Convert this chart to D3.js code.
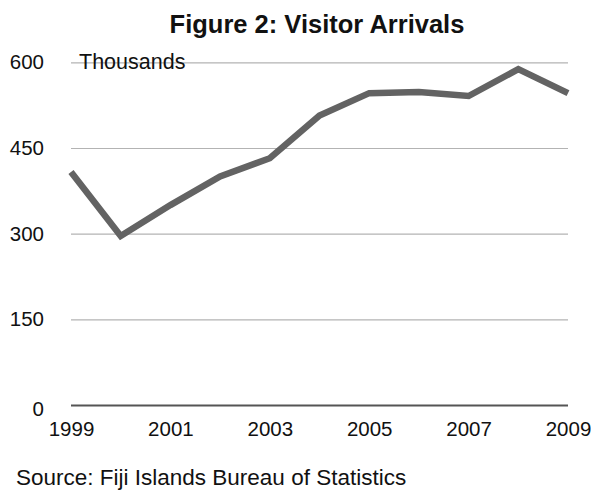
<!DOCTYPE html>
<html><head><meta charset="utf-8">
<script src="https://cdn.jsdelivr.net/npm/d3@7"></script>
<style>body{margin:0;background:#fff}svg{display:block;font-family:"Liberation Sans",Arial,sans-serif}</style>
</head><body><svg id="c" width="591" height="490"></svg>
<script>
const years = [1999,2000,2001,2002,2003,2004,2005,2006,2007,2008,2009];
const arrivals = [408,296,350,400,432,507,546,548,541,588,546];
const yTicks = [0,150,300,450,600];
const xTicks = [1999,2001,2003,2005,2007,2009];
const title = "Figure 2: Visitor Arrivals";
const unitLabel = "Thousands";
const source = "Source: Fiji Islands Bureau of Statistics";

const svg = d3.select("#c");
const x = d3.scaleLinear().domain([1999,2009]).range([71,568]);
const y = d3.scaleLinear().domain([0,600]).range([405,62.3]);

svg.append("text").attr("x",317).attr("y",33).attr("text-anchor","middle")
  .attr("font-weight","bold").attr("font-size",25.5).attr("fill","#111").text(title);

const gy = svg.append("g").attr("transform","translate(71,0)")
  .call(d3.axisLeft(y).tickValues(yTicks).tickSize(-(568-71)).tickPadding(27).tickFormat(d3.format("d")));
gy.select(".domain").remove();
gy.selectAll(".tick line").attr("stroke","#b3b3b3").attr("stroke-width",1.2);
gy.selectAll(".tick text").attr("font-size",20.5).attr("fill","#111").attr("font-family","Liberation Sans, Arial, sans-serif");
gy.selectAll(".tick").filter(d=>d===0).select("line").attr("stroke","#555").attr("stroke-width",2.2);
gy.selectAll(".tick").filter(d=>d===0).select("text").attr("dy","0.5em");

svg.append("text").attr("x",79).attr("y",68.5).attr("font-size",21.5).attr("fill","#111").text(unitLabel);

const gx = svg.append("g").attr("transform","translate(0,405)")
  .call(d3.axisBottom(x).tickValues(xTicks).tickSize(0).tickPadding(16.5).tickFormat(d3.format("d")));
gx.select(".domain").remove();
gx.selectAll(".tick text").attr("font-size",20.5).attr("fill","#111").attr("font-family","Liberation Sans, Arial, sans-serif");

svg.append("path").datum(years.map((yr,i)=>[yr,arrivals[i]]))
  .attr("fill","none").attr("stroke","#636363").attr("stroke-width",6.5)
  .attr("stroke-linejoin","miter")
  .attr("d",d3.line().x(d=>x(d[0])).y(d=>y(d[1])));

svg.append("text").attr("x",16).attr("y",485).attr("font-size",22.5).attr("fill","#111").text(source);
</script></body></html>
